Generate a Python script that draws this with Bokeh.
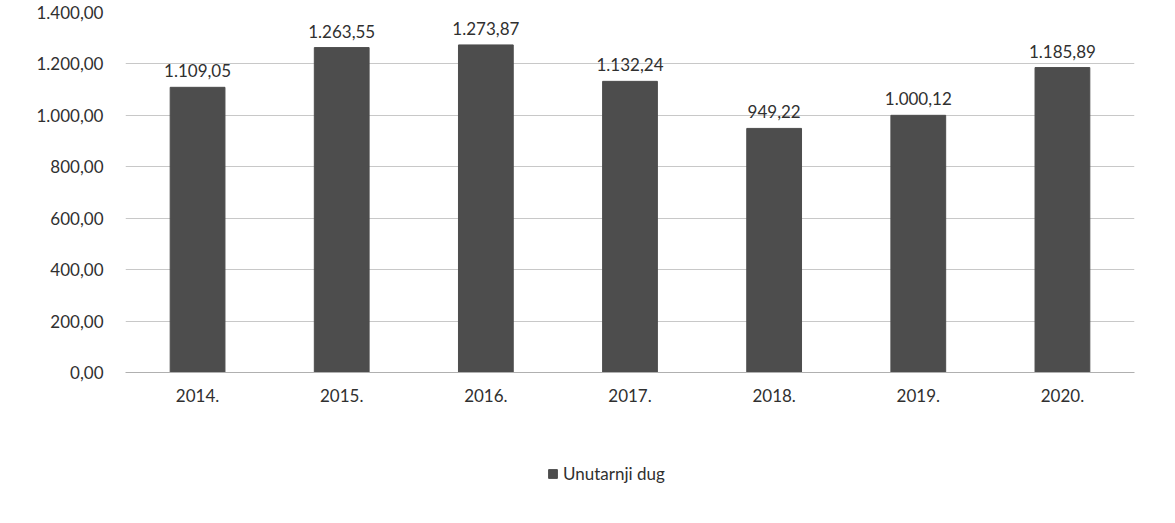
from bokeh.plotting import figure
from bokeh.layouts import column
from bokeh.models import ColumnDataSource, FixedTicker, Legend, LegendItem, Range1d
from bokeh.core.properties import value
from bokeh.embed import file_html
from bokeh.resources import INLINE

years = ["2014.", "2015.", "2016.", "2017.", "2018.", "2019.", "2020."]
debt = [1109.05, 1263.55, 1273.87, 1132.24, 949.22, 1000.12, 1185.89]
debt_labels = ["1.109,05", "1.263,55", "1.273,87", "1.132,24", "949,22", "1.000,12", "1.185,89"]
y_ticks = [0, 200, 400, 600, 800, 1000, 1200, 1400]
y_tick_labels = ["0,00", "200,00", "400,00", "600,00", "800,00", "1.000,00", "1.200,00", "1.400,00"]
series_name = "Unutarnji dug"

FONT = "Lato"
FS = "17px"
BAR = "#4d4d4d"
TXT = "#303030"
src = ColumnDataSource(dict(year=years, debt=debt, lab=debt_labels))

p = figure(x_range=years, y_range=(0, 1400), width=1159, height=442,
           output_backend="svg", toolbar_location=None,
           min_border_left=125, min_border_right=25, min_border_top=12, min_border_bottom=70)

bars = p.vbar(x="year", top="debt", width=0.38, source=src,
              fill_color=BAR, line_color=BAR)
p.text(x="year", y="debt", text="lab", source=src, y_offset=-10,
       text_align="center", text_baseline="bottom",
       text_font=value(FONT), text_font_size=FS, text_color=TXT)

p.yaxis.ticker = FixedTicker(ticks=y_ticks)
p.yaxis.major_label_overrides = {t: l for t, l in zip(y_ticks, y_tick_labels)}
p.yaxis.axis_line_color = None
p.yaxis.major_tick_line_color = None
p.yaxis.minor_tick_line_color = None
p.yaxis.major_label_text_font = FONT
p.yaxis.major_label_text_font_size = FS
p.yaxis.major_label_text_color = TXT
p.yaxis.major_label_standoff = 16

p.xaxis.axis_line_color = "#b0b0b0"
p.xaxis.major_tick_line_color = None
p.xaxis.minor_tick_line_color = None
p.xaxis.major_label_text_font = FONT
p.xaxis.major_label_text_font_size = FS
p.xaxis.major_label_text_color = TXT
p.xaxis.major_label_standoff = 10

p.xgrid.grid_line_color = None
p.ygrid.grid_line_color = "#c8c8c8"
p.outline_line_color = None

# legend strip below the chart
lg = figure(x_range=years, y_range=Range1d(-2, -1), width=1159, height=60,
            output_backend="svg", toolbar_location=None,
            x_axis_location=None, y_axis_location=None,
            min_border_left=0, min_border_right=0, min_border_top=0, min_border_bottom=0)
lbars = lg.vbar(x="year", top="debt", width=0.38, source=src,
                fill_color=BAR, line_color=BAR)
lbars.visible = False
lg.grid.grid_line_color = None
lg.outline_line_color = None
legend = Legend(items=[LegendItem(label=series_name, renderers=[lbars])],
                orientation="horizontal", location=(422, 18),
                label_text_font=FONT, label_text_font_size=FS,
                label_text_color=TXT, border_line_color=None,
                background_fill_alpha=0, inactive_fill_alpha=0,
                glyph_width=11, glyph_height=11, margin=0, padding=0)
lg.add_layout(legend, "center")

layout = column(p, lg, spacing=0)
open("out.html", "w").write(file_html(layout, INLINE))
